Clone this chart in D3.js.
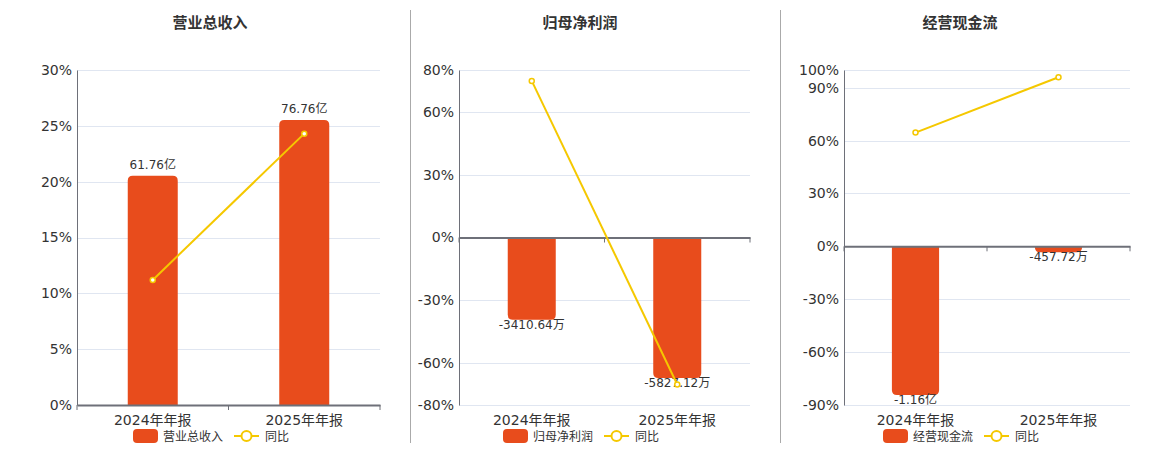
<!DOCTYPE html>
<html><head><meta charset="utf-8">
<script src="https://cdn.jsdelivr.net/npm/d3@7/dist/d3.min.js"></script>
<style>
body{margin:0;background:#fff;}
svg text{font-family:"DejaVu Sans","Noto Sans CJK SC",sans-serif;}
</style></head>
<body>
<svg id="chart" width="1160" height="450"></svg>
<script>
const categories = ["2024年年报", "2025年年报"];
const titles = ["营业总收入", "归母净利润", "经营现金流"];
const yoyName = "同比";

const revenueValues = [61.76, 76.76];
const revenueLabels = ["61.76亿", "76.76亿"];
const revenueYoy = [11.2, 24.3];
const revenueTicks = [0, 5, 10, 15, 20, 25, 30];

const profitValues = [-3410.64, -5827.12];
const profitLabels = ["-3410.64万", "-5827.12万"];
const profitYoy = [74.8, -70.2];
const profitTicks = [-80, -60, -30, 0, 30, 60, 80];

const cashValues = [-11600, -457.72];
const cashLabels = ["-1.16亿", "-457.72万"];
const cashYoy = [64.5, 95.9];
const cashTicks = [-90, -60, -30, 0, 30, 60, 90, 100];

const barColor = "#E84C1C";
const lineColor = "#F5C800";

const panels = [
  {title: titles[0], bars: revenueValues, labels: revenueLabels, yoy: revenueYoy, ticks: revenueTicks,
   pctDomain: [0, 30], barDomain: [0, 90.2], x0: 77, x1: 380, cx: 210},
  {title: titles[1], bars: profitValues, labels: profitLabels, yoy: profitYoy, ticks: profitTicks,
   pctDomain: [-80, 80], barDomain: [-6950, 6950], x0: 459, x1: 750, cx: 580},
  {title: titles[2], bars: cashValues, labels: cashLabels, yoy: cashYoy, ticks: cashTicks,
   pctDomain: [-90, 100], barDomain: [-12380, 13760], x0: 844, x1: 1130, cx: 960}
];

const svg = d3.select("#chart");
const plotTop = 70, plotBottom = 405;

// separators
[410, 780].forEach(x => svg.append("line").attr("x1", x + 0.5).attr("x2", x + 0.5).attr("y1", 10).attr("y2", 443)
  .attr("stroke", "#aaa").attr("stroke-width", 1));

panels.forEach(p => {
  const g = svg.append("g");
  const x = d3.scaleBand().domain(categories).range([p.x0, p.x1]);
  const y = d3.scaleLinear().domain(p.pctDomain).range([plotBottom, plotTop]);
  const yb = d3.scaleLinear().domain(p.barDomain).range([plotBottom, plotTop]);

  g.append("text").attr("x", p.cx).attr("y", 28).attr("text-anchor", "middle")
    .attr("font-size", 15).attr("font-weight", "bold").attr("fill", "#333").text(p.title);

  // grid
  g.selectAll(".grid").data(p.ticks).join("line")
    .attr("x1", p.x0).attr("x2", p.x1).attr("y1", d => Math.round(y(d)) + 0.5).attr("y2", d => Math.round(y(d)) + 0.5)
    .attr("stroke", "#E0E6F1").attr("stroke-width", 1);

  // y axis
  const ya = g.append("g").attr("transform", `translate(${p.x0},0)`)
    .call(d3.axisLeft(y).tickValues(p.ticks).tickFormat(d => d + "%").tickSize(0).tickPadding(5));
  ya.select(".domain").attr("stroke", "#6E7079");
  ya.selectAll("text").attr("font-size", 14).attr("fill", "#333")
    .attr("font-family", "DejaVu Sans, Noto Sans CJK SC, sans-serif");

  // bars
  const bw = x.bandwidth() * 0.33;
  const r = 5;
  p.bars.forEach((v, i) => {
    const cx = x(categories[i]) + x.bandwidth() / 2;
    const y0 = yb(0), y1 = yb(v);
    const h = Math.abs(y1 - y0);
    const rr = Math.min(r, h);
    const xl = cx - bw / 2, xr = cx + bw / 2;
    let d;
    if (v >= 0) {
      d = `M${xl},${y0}V${y1 + rr}Q${xl},${y1} ${xl + rr},${y1}H${xr - rr}Q${xr},${y1} ${xr},${y1 + rr}V${y0}Z`;
    } else {
      d = `M${xl},${y0}V${y1 - rr}Q${xl},${y1} ${xl + rr},${y1}H${xr - rr}Q${xr},${y1} ${xr},${y1 - rr}V${y0}Z`;
    }
    g.append("path").attr("d", d).attr("fill", barColor);
    g.append("text").attr("x", cx).attr("y", v >= 0 ? y1 - 7 : y1 + 9)
      .attr("text-anchor", "middle").attr("font-size", 12).attr("fill", "#333").text(p.labels[i]);
  });

  // x axis at zero
  const xa = g.append("g").attr("transform", `translate(0,${y(0)})`)
    .call(d3.axisBottom(x).tickSize(0).tickFormat(""));
  xa.select(".domain").attr("stroke", "#6E7079").attr("stroke-width", 2);
  const bounds = [p.x0, p.x0 + x.bandwidth(), p.x1];
  g.selectAll(".xt").data(bounds).join("line")
    .attr("x1", d => d).attr("x2", d => d).attr("y1", y(0)).attr("y2", y(0) + 5)
    .attr("stroke", "#6E7079");

  // x labels
  g.selectAll(".xl").data(categories).join("text")
    .attr("x", d => x(d) + x.bandwidth() / 2).attr("y", 425)
    .attr("text-anchor", "middle").attr("font-size", 14).attr("fill", "#333").text(d => d);

  // line
  const pts = p.yoy.map((v, i) => [x(categories[i]) + x.bandwidth() / 2, y(v)]);
  g.append("path").attr("d", d3.line()(pts)).attr("fill", "none").attr("stroke", lineColor).attr("stroke-width", 2);
  g.selectAll(".pt").data(pts).join("circle").attr("cx", d => d[0]).attr("cy", d => d[1]).attr("r", 2.5)
    .attr("fill", "#fff").attr("stroke", lineColor).attr("stroke-width", 1.5);

  // legend
  const ly = 436;
  g.append("rect").attr("x", p.cx - 77).attr("y", ly - 7).attr("width", 25).attr("height", 14).attr("rx", 4)
    .attr("fill", barColor);
  g.append("text").attr("x", p.cx - 47).attr("y", ly + 4.5).attr("font-size", 12).attr("fill", "#333").text(p.title);
  g.append("line").attr("x1", p.cx + 24).attr("x2", p.cx + 49).attr("y1", ly).attr("y2", ly)
    .attr("stroke", lineColor).attr("stroke-width", 2);
  g.append("circle").attr("cx", p.cx + 36.5).attr("cy", ly).attr("r", 5).attr("fill", "#fff")
    .attr("stroke", lineColor).attr("stroke-width", 2);
  g.append("text").attr("x", p.cx + 55).attr("y", ly + 4.5).attr("font-size", 12).attr("fill", "#333").text(yoyName);
});
</script>
</body></html>
